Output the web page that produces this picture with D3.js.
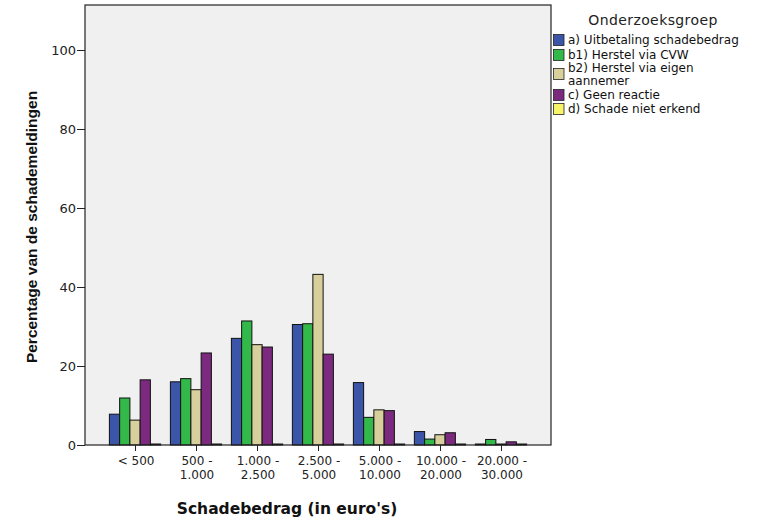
<!DOCTYPE html>
<html><head><meta charset="utf-8">
<script src="https://cdn.jsdelivr.net/npm/d3@7"></script>
<style>body{margin:0;background:#fff}svg{display:block}</style>
</head><body>
<svg id="c" width="762" height="531"></svg>
<script>
const categories = [["< 500"],["500 -","1.000"],["1.000 -","2.500"],["2.500 -","5.000"],["5.000 -","10.000"],["10.000 -","20.000"],["20.000 -","30.000"]];
const seriesNames = ["a) Uitbetaling schadebedrag","b1) Herstel via CVW","b2) Herstel via eigen aannemer","c) Geen reactie","d) Schade niet erkend"];
const legendLabels = [["a) Uitbetaling schadebedrag"],["b1) Herstel via CVW"],["b2) Herstel via eigen","aannemer"],["c) Geen reactie"],["d) Schade niet erkend"]];
const colors = ["#3b55a8","#32b94a","#d8d09c","#7c2a7f","#f8f46a"];
const sA  = [7.8, 16.0, 27.0, 30.5, 15.8, 3.4, 0];
const sB1 = [11.9, 16.8, 31.4, 30.7, 7.0, 1.5, 1.4];
const sB2 = [6.3, 14.0, 25.4, 43.2, 8.9, 2.6, 0];
const sC  = [16.5, 23.3, 24.8, 23.0, 8.7, 3.1, 0.8];
const sD  = [0, 0, 0, 0, 0, 0, 0];
const series = [sA, sB1, sB2, sC, sD];
const yTicks = [0,20,40,60,80,100];

const FONT = "DejaVu Sans, Verdana, sans-serif";
const svg = d3.select("#c");
const L = 85, R = 551, T = 5, B = 445;
svg.append("rect").attr("x",L).attr("y",T).attr("width",R-L).attr("height",B-T).attr("fill","#f0f0f0");

const x = d3.scaleBand().domain(d3.range(categories.length)).range([L,R]).paddingInner(0.16).paddingOuter(0.4);
const xi = d3.scaleBand().domain(d3.range(series.length)).range([0,x.bandwidth()]);
const y = d3.scaleLinear().domain([0, (B-T)/3.95]).range([B,T]);

series.forEach((s,si)=>{
  svg.append("g").selectAll("rect").data(s).join("rect")
    .attr("x",(d,i)=>x(i)+xi(si))
    .attr("width",xi.bandwidth())
    .attr("y",d=>Math.min(y(d), B-1))
    .attr("height",d=>Math.max(B-y(d),1))
    .attr("fill",colors[si]).attr("stroke","#111").attr("stroke-width",1);
});

// frame
svg.append("rect").attr("x",L).attr("y",T).attr("width",R-L).attr("height",B-T).attr("fill","none").attr("stroke","#222").attr("stroke-width",1.2);

const ya = svg.append("g").attr("transform",`translate(${L},0)`).call(d3.axisLeft(y).tickValues(yTicks).tickSize(8).tickPadding(1));
ya.select(".domain").remove();
ya.selectAll("line").attr("stroke","#222");
ya.selectAll("text").attr("font-family",FONT).attr("font-size",13).attr("fill","#222");

const xa = svg.append("g").attr("transform",`translate(0,${B})`).call(d3.axisBottom(x).tickSize(6).tickFormat(""));
xa.select(".domain").remove();
xa.selectAll(".tick line").attr("stroke","#222").attr("transform","translate(0.5,0)");
xa.selectAll(".tick").each(function(d){
  const t = d3.select(this).append("text").attr("fill","#222").attr("font-family",FONT).attr("font-size",12).attr("text-anchor","middle");
  categories[d].forEach((ln,k)=>t.append("tspan").attr("x",1).attr("y",20+k*14).text(ln));
});

svg.append("text").attr("x",287).attr("y",514).attr("text-anchor","middle").attr("font-family",FONT).attr("font-weight","bold").attr("font-size",15.5).attr("fill","#111").text("Schadebedrag (in euro's)");
svg.append("text").attr("transform","translate(37,227) rotate(-90)").attr("text-anchor","middle").attr("font-family","Liberation Sans, Arial").attr("font-weight","bold").attr("font-size",15.5).attr("fill","#111").text("Percentage van de schademeldingen");

// legend
svg.append("text").attr("x",653).attr("y",25).attr("text-anchor","middle").attr("font-family",FONT).attr("font-size",14).attr("letter-spacing",0.4).attr("fill","#222").text("Onderzoeksgroep");
const ly = [40,55,74,95,109];
legendLabels.forEach((lab,i)=>{
  svg.append("rect").attr("x",553.5).attr("y",ly[i]-5.5).attr("width",10.5).attr("height",11).attr("fill",colors[i]).attr("stroke","#222").attr("stroke-width",0.8);
  const t = svg.append("text").attr("font-family",FONT).attr("font-size",12).attr("fill","#111");
  lab.forEach((ln,k)=>t.append("tspan").attr("x",568).attr("y",ly[i]+4-(lab.length-1)*6.5+k*13).text(ln));
});
</script>
</body></html>
